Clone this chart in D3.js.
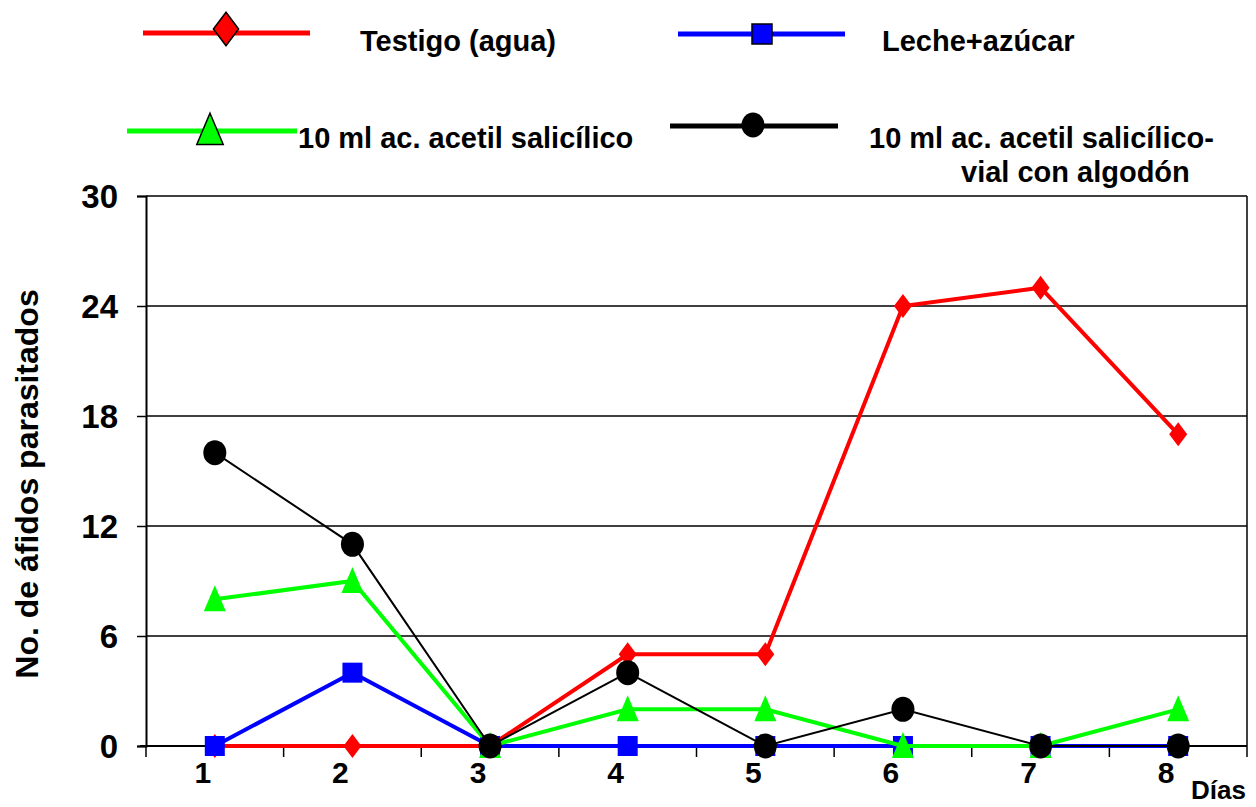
<!DOCTYPE html>
<html><head><meta charset="utf-8">
<script src="https://cdn.jsdelivr.net/npm/d3@7"></script>
<style>
body{margin:0;background:#fff;}
text{font-family:"Liberation Sans",Arial,sans-serif;font-weight:bold;fill:#000;}
</style></head>
<body><svg id="c" width="1256" height="807"></svg>
<script>
const days = ["1","2","3","4","5","6","7","8"];
const testigo = [0,0,0,5,5,24,25,17];
const leche = [0,4,0,0,0,0,0,0];
const acetil = [8,9,0,2,2,0,0,2];
const acetilVial = [16,11,0,4,0,2,0,0];
const yTicks = [0,6,12,18,24,30];
const seriesNames = ["Testigo (agua)","Leche+azúcar","10 ml ac. acetil salicílico","10 ml ac. acetil salicílico-|vial con algodón"];

const svg = d3.select("#c");
const L=146,R=1247,T=196,B=746;
const x = d3.scaleBand().domain(days).range([L,R]);
const y = d3.scaleLinear().domain([0,30]).range([B,T]);

svg.append("g").selectAll("line").data(yTicks.filter(d=>d>0)).join("line")
  .attr("x1",L).attr("x2",R).attr("y1",d=>y(d)).attr("y2",d=>y(d))
  .attr("stroke","#000").attr("stroke-width",1.5);
svg.append("line").attr("x1",R).attr("x2",R).attr("y1",T).attr("y2",B).attr("stroke","#000").attr("stroke-width",1.5);

const ya = svg.append("g").attr("transform",`translate(${L},0)`)
  .call(d3.axisLeft(y).tickValues(yTicks).tickSize(9).tickPadding(19));
ya.select(".domain").attr("stroke-width",2);
ya.selectAll(".tick line").attr("stroke-width",1.5);
ya.selectAll("text").style("font-size","33px").style("font-family","'Liberation Sans',Arial,sans-serif").style("font-weight","bold").attr("dy","0.35em");

const xa = svg.append("g").attr("transform",`translate(0,${B})`)
  .call(d3.axisBottom(x).tickSize(0).tickPadding(16));
xa.select(".domain").attr("stroke-width",2).attr("d",`M${L-6},0H${R}`);
xa.selectAll("text").style("font-size","30px").style("font-family","'Liberation Sans',Arial,sans-serif").style("font-weight","bold").attr("dx","-12");
const bounds = days.map(d=>x(d)).concat([R]);
xa.append("g").selectAll("line").data(bounds).join("line")
  .attr("x1",d=>d).attr("x2",d=>d).attr("y1",0).attr("y2",11).attr("stroke","#000").attr("stroke-width",1.5);

svg.append("text").attr("transform","translate(38,484) rotate(-90)").attr("text-anchor","middle")
  .style("font-size","32px").text("No. de áfidos parasitados");
svg.append("text").attr("x",1191).attr("y",799).style("font-size","26px").text("Días");

const cx = d => x(d)+x.bandwidth()/2;
const series = [
  {vals:testigo,color:"#ff0000",w:4,shape:"diamond"},
  {vals:leche,color:"#0000ff",w:4,shape:"square"},
  {vals:acetil,color:"#00ff00",w:4,shape:"triangle"},
  {vals:acetilVial,color:"#000000",w:2,shape:"circle"}
];
function marker(g,shape,color,stroke,scale){
  scale=scale||1;
  if(shape==="diamond") g.append("path").attr("d",`M0,${-12*scale}L${9*scale},0L0,${12*scale}L${-9*scale},0Z`);
  else if(shape==="square") g.append("rect").attr("x",-10*scale).attr("y",-10*scale).attr("width",20*scale).attr("height",20*scale);
  else if(shape==="triangle") g.append("path").attr("d",`M0,${-14*scale}L${11*scale},${12*scale}L${-11*scale},${12*scale}Z`);
  else g.append("ellipse").attr("rx",11.5*scale).attr("ry",12.5*scale);
  g.selectAll("*").attr("fill",color).attr("stroke",stroke?"#000":"none").attr("stroke-width",stroke?1.5:0);
}
const line = d3.line().x((d,i)=>cx(days[i])).y(d=>y(d));
series.forEach(s=>{
  svg.append("path").datum(s.vals).attr("d",line).attr("fill","none").attr("stroke",s.color).attr("stroke-width",s.w);
  s.vals.forEach((v,i)=>{
    const g = svg.append("g").attr("transform",`translate(${cx(days[i])},${y(v)})`);
    marker(g,s.shape,s.color,false);
  });
});

const leg = [
  {x1:143,x2:310,ly:33,mx:226,my:29,tx:360,ty:51},
  {x1:678,x2:845,ly:34,mx:762,my:34,tx:882,ty:51},
  {x1:127,x2:297,ly:131,mx:210,my:130,tx:298,ty:148},
  {x1:670,x2:838,ly:126,mx:753,my:125,tx:869,ty:148}
];
leg.forEach((p,i)=>{
  const s = series[i];
  svg.append("line").attr("x1",p.x1).attr("x2",p.x2).attr("y1",p.ly).attr("y2",p.ly).attr("stroke",s.color).attr("stroke-width",5);
  const g = svg.append("g").attr("transform",`translate(${p.mx},${p.my})`);
  marker(g,s.shape,s.color,s.shape!=="circle",s.shape==="diamond"?1.4:(s.shape==="triangle"?1.2:1));
  const parts = seriesNames[i].split("|");
  svg.append("text").attr("x",p.tx).attr("y",p.ty).style("font-size","29px").text(parts[0]);
  if(parts[1]) svg.append("text").attr("x",p.tx+92).attr("y",p.ty+34).style("font-size","29px").text(parts[1]);
});
</script></body></html>
